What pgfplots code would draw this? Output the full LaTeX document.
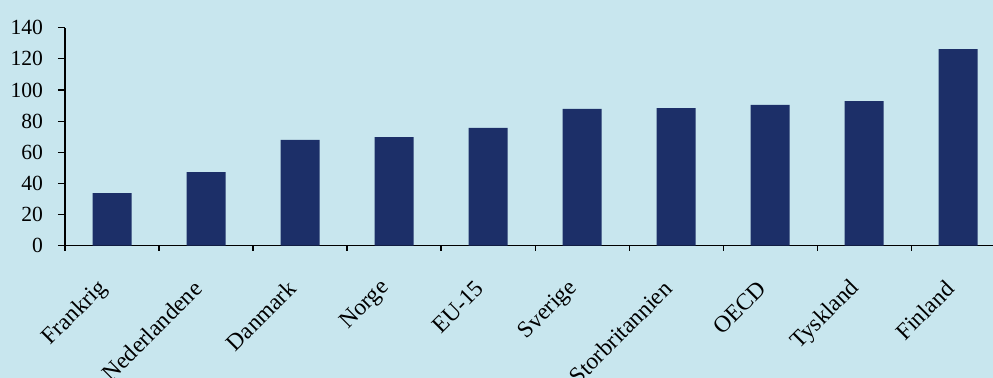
\documentclass[border=0pt]{standalone}
\usepackage{pgfplots}
\pgfplotsset{compat=1.18}
\usepackage{fontspec}
\setmainfont{Liberation Serif}
\definecolor{bg}{RGB}{200,230,238}
\definecolor{barc}{RGB}{28,47,104}
\begin{document}
\begin{tikzpicture}
\path[use as bounding box, fill=bg] (-32.5pt,-66.15pt) rectangle (464pt,122.85pt);
\begin{axis}[
  at={(0,0)}, anchor=south west,
  scale only axis,
  width=464pt, height=109pt,
  xmin=-0.5, xmax=9.37,
  ymin=0, ymax=140,
  ytick={0,20,...,140},
  xtick={0,...,9},
  xticklabels={Frankrig,Nederlandene,Danmark,Norge,EU-15,Sverige,Storbritannien,OECD,Tyskland,Finland},
  minor xtick={-0.5,0.5,...,8.5},
  axis x line*=bottom,
  axis y line*=left,
  axis line style={black, line width=0.6pt, -},
  tick align=outside,
  major tick length=3.5pt,
  minor tick length=2.5pt,
  x tick style={draw=none},
  minor x tick style={draw=black, line width=0.6pt},
  y tick style={black, line width=0.6pt},
  tick label style={font=\fontsize{10.8}{12}\selectfont},
  /pgf/number format/assume math mode=true,
  xticklabel style={font=\fontsize{11.7}{13}\selectfont, xshift=-4pt, yshift=-16pt, rotate=45, anchor=east, inner sep=0pt},
  yticklabel style={xshift=-4pt},
  clip=false,
]
\addplot[ybar, bar width=19.5pt, fill=barc, draw=none] coordinates {
(0,33.8) (1,47.3) (2,67.9) (3,69.8) (4,75.6) (5,87.8) (6,88.4) (7,90.4) (8,92.9) (9,126.3)
};
\end{axis}
\end{tikzpicture}
\end{document}
